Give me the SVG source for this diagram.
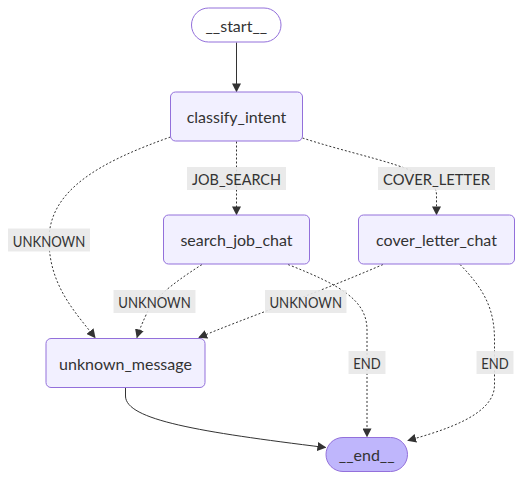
<svg xmlns="http://www.w3.org/2000/svg" width="531" height="480" viewBox="0 0 531 480">
<style>
.node rect{fill:#f2f0ff;stroke:#9370db;stroke-width:1}
.node.first rect{fill:#ffffff}
.node.last rect{fill:#bfb6fc}
.t{font-family:Lato,"Liberation Sans",sans-serif;font-size:16px;fill:#333;text-anchor:middle;dominant-baseline:central}
.e{fill:none;stroke:#333;stroke-width:1}
.d{stroke-dasharray:2 2}
.lb rect{fill:#e8e8e8;fill-opacity:0.9}
</style>
<defs>
<marker id="ah" viewBox="0 0 10 10" refX="9" refY="5" markerUnits="userSpaceOnUse" markerWidth="9" markerHeight="9" orient="auto">
<path d="M0,0 L10,5 L0,10 z" fill="#333"/>
</marker>
</defs>
<rect width="531" height="480" fill="#fff"/>
<g id="edges">
<path class="e" d="M236.5,42.5 L236.5,91.5" marker-end="url(#ah)"/>
<path class="e d" d="M170.5,137 C100,162 49,190 49,240 C49,285 75,312 95,337.5" marker-end="url(#ah)"/>
<path class="e d" d="M236.5,141.5 L236.5,214.5" marker-end="url(#ah)"/>
<path class="e d" d="M302.5,138 C370,160 436.5,168 436.5,195 L436.5,214.5" marker-end="url(#ah)"/>
<path class="e d" d="M202,264.5 C170,285 152,300 146,315 C141,326 139,331 137,337.5" marker-end="url(#ah)"/>
<path class="e d" d="M288,264.5 C340,285 367,300 367,330 L367,436.5" marker-end="url(#ah)"/>
<path class="e d" d="M383,264.5 C310,296 245,318 199,337.5" marker-end="url(#ah)"/>
<path class="e d" d="M460,264.5 C485,290 494.5,310 494.5,340 L494.5,385 C494.5,415 445,430 408,440.5" marker-end="url(#ah)"/>
<path class="e" d="M125.5,388 L125.5,396 C125.5,420 200,432 325.5,447.5" marker-end="url(#ah)"/>
</g>
<g id="labels">
<g class="lb"><rect x="187" y="167" width="99" height="23"/><text class="t" x="236.5" y="178.5" textLength="89" lengthAdjust="spacingAndGlyphs">JOB_SEARCH</text></g>
<g class="lb"><rect x="378" y="167" width="117" height="23"/><text class="t" x="436.5" y="178.5" textLength="107" lengthAdjust="spacingAndGlyphs">COVER_LETTER</text></g>
<g class="lb"><rect x="8" y="228.5" width="82" height="23"/><text class="t" x="49" y="240" textLength="72.5" lengthAdjust="spacingAndGlyphs">UNKNOWN</text></g>
<g class="lb"><rect x="113.5" y="290" width="82" height="23"/><text class="t" x="154.5" y="301.5" textLength="72.5" lengthAdjust="spacingAndGlyphs">UNKNOWN</text></g>
<g class="lb"><rect x="265" y="290" width="81.5" height="23"/><text class="t" x="305.7" y="301.5" textLength="72.5" lengthAdjust="spacingAndGlyphs">UNKNOWN</text></g>
<g class="lb"><rect x="348.5" y="351" width="37" height="23"/><text class="t" x="367" y="362.5" textLength="27.5" lengthAdjust="spacingAndGlyphs">END</text></g>
<g class="lb"><rect x="476.5" y="351" width="37" height="23"/><text class="t" x="495" y="362.5" textLength="27.5" lengthAdjust="spacingAndGlyphs">END</text></g>
</g>
<g id="start" class="node first"><rect x="191.5" y="8" width="89.5" height="34" rx="17"/><text class="t" x="236.3" y="25">__start__</text></g>
<g id="classify_intent" class="node"><rect x="170.5" y="92" width="132" height="49" rx="5"/><text class="t" x="236.5" y="116.5">classify_intent</text></g>
<g id="search_job_chat" class="node"><rect x="163.5" y="215" width="146" height="49" rx="5"/><text class="t" x="236.5" y="239.5">search_job_chat</text></g>
<g id="cover_letter_chat" class="node"><rect x="358.5" y="215" width="156" height="49" rx="5"/><text class="t" x="436.5" y="239.5">cover_letter_chat</text></g>
<g id="unknown_message" class="node"><rect x="46" y="338.5" width="159" height="49" rx="5"/><text class="t" x="125.5" y="363">unknown_message</text></g>
<g id="end" class="node last"><rect x="326" y="437.5" width="81.5" height="34" rx="17"/><text class="t" x="366.7" y="454.5">__end__</text></g>
</svg>
